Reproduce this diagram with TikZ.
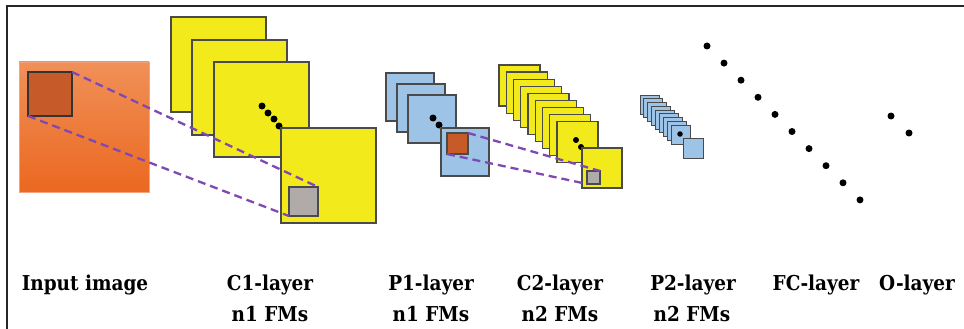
\documentclass[tikz,border=0pt]{standalone}
\usepackage{fontspec}
\newfontfamily\labfont{DejaVu Serif Condensed}
\definecolor{fmyellow}{HTML}{F2EA1A}
\definecolor{fmblue}{HTML}{9DC3E6}
\definecolor{edgegray}{HTML}{4A4A4A}
\definecolor{imgtop}{HTML}{F09058}
\definecolor{imgbot}{HTML}{EB6820}
\definecolor{imgedge}{HTML}{F4A47A}
\definecolor{patch}{HTML}{C65A28}
\definecolor{patchgray}{HTML}{B0ABA8}
\definecolor{linkpurple}{HTML}{8048B5}
\begin{document}
\begin{tikzpicture}[x=1pt,y=-1pt,
  fm/.style={draw=edgegray, line width=1.2pt, inner sep=0pt, outer sep=0pt, anchor=north west},
  yel/.style={fm, fill=fmyellow},
  blu/.style={fm, fill=fmblue},
  fmdot/.style={circle, fill=black, inner sep=0pt, minimum size=7pt},
  link/.style={draw=linkpurple, line width=2.3pt, dash pattern=on 8pt off 5pt},
  lab/.style={font=\labfont\bfseries\fontsize{20.5}{24}\selectfont, anchor=base, inner sep=0pt}]
\useasboundingbox (0,0) rectangle (964,329);
\fill[white] (0,0) rectangle (964,329);
\draw[line width=2pt, black!85] (7,329) -- (7,6) -- (964,6);

% input image with receptive field
\node[fm, draw=imgedge, line width=0.8pt, top color=imgtop, bottom color=imgbot, minimum size=130pt] (img) at (19,62) {};
\node[fm, fill=patch, draw=black!80, minimum size=44pt] (rf1) at (28,72) {};

% C1 layer
\node[yel, minimum size=95pt] (c1a) at (171,17) {};
\node[yel, minimum size=95pt] (c1b) at (192,40) {};
\node[yel, minimum size=95pt] (c1c) at (214,62) {};
\foreach \i/\x/\y in {1/262/106, 2/268/113, 3/274/119, 4/279/126}
  \node[fmdot] (c1d\i) at (\x,\y) {};
\node[yel, minimum size=95pt] (c1z) at (281,128) {};
\node[fm, fill=patchgray, minimum size=29pt] (g1) at (289,187) {};

% P1 layer
\node[blu, minimum size=48pt] (p1a) at (386,73) {};
\node[blu, minimum size=48pt] (p1b) at (397,84) {};
\node[blu, minimum size=48pt] (p1c) at (408,95) {};
\node[fmdot] (p1d1) at (433,118) {};
\node[fmdot] (p1d2) at (439,125) {};
\node[blu, minimum size=48pt] (p1z) at (441,128) {};
\node[fm, fill=patch, minimum size=21pt] (rf2) at (447,133) {};

% C2 layer
\foreach \k in {0,...,8}
  \node[yel, minimum size=41pt] (c2\k) at ({499+7.25*\k},{65+7.1*\k}) {};
\node[fmdot, minimum size=6pt] (c2d1) at (576,140) {};
\node[fmdot, minimum size=6pt] (c2d2) at (581,147) {};
\node[yel, minimum size=40pt] (c2z) at (582,148) {};
\node[fm, fill=patchgray, minimum size=13pt] (g2) at (587,171) {};

% P2 layer
\foreach \k in {0,...,8}
  \node[blu, line width=1pt, minimum size=19pt] (p2\k) at ({640+3.9*\k},{95+3.75*\k}) {};
\node[fmdot, minimum size=5.5pt] (p2d) at (680,134) {};
\node[blu, line width=1pt, minimum size=20pt] (p2z) at (683,138) {};

% FC layer and output layer
\foreach \k in {0,...,9}
  \node[fmdot] (fc\k) at ({707+17.0*\k},{46+17.1*\k}) {};
\node[fmdot] (o1) at (891,116) {};
\node[fmdot] (o2) at (909,133) {};

% receptive-field links
\draw[link] (rf1.north east) -- (g1.north east);
\draw[link] (rf1.south west) -- (g1.south west);
\draw[link] (rf2.north east) -- (g2.north east);
\draw[link] (rf2.south west) -- (g2.south west);

% layer captions
\node[lab] (l0) at (85,290) {Input image};
\node[lab] (l1) at (270,290) {C1-layer};
\node[lab] (l1b) at (270,321) {n1 FMs};
\node[lab] (l2) at (431,290) {P1-layer};
\node[lab] (l2b) at (431,321) {n1 FMs};
\node[lab] (l3) at (560,290) {C2-layer};
\node[lab] (l3b) at (560,321) {n2 FMs};
\node[lab] (l4) at (693,290) {P2-layer};
\node[lab] (l4b) at (692,321) {n2 FMs};
\node[lab] (l5) at (816,290) {FC-layer};
\node[lab] (l6) at (917,290) {O-layer};
\end{tikzpicture}
\end{document}
